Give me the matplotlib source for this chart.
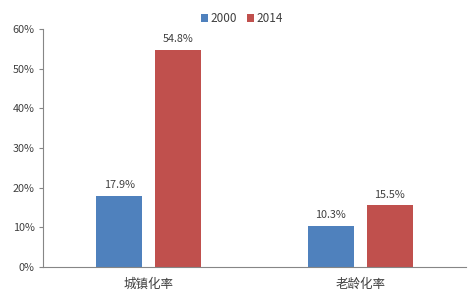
import matplotlib
matplotlib.use("Agg")
import matplotlib.pyplot as plt
import numpy as np

plt.rcParams['font.family'] = ['Noto Sans CJK SC', 'DejaVu Sans']

categories = ['城镇化率', '老龄化率']
series_names = ['2000', '2014']
values_2000 = [17.9, 10.3]
values_2014 = [54.8, 15.5]
colors = ['#4F81BD', '#C0504D']
yticks = [0, 10, 20, 30, 40, 50, 60]

fig = plt.figure(figsize=(4.75, 2.98), dpi=100)
ax = fig.add_axes([0.0905, 0.104, 0.8905, 0.799])

x = np.arange(len(categories))
w = 0.2175
off = 0.1387
for vals, name, c, d in [(values_2000, series_names[0], colors[0], -off),
                         (values_2014, series_names[1], colors[1], off)]:
    bars = ax.bar(x + d, vals, width=w, color=c, label=name, zorder=2)
    for b, v in zip(bars, vals):
        ax.text(b.get_x() + b.get_width() / 2, v + 1.5, f'{v}%',
                ha='center', va='bottom', fontsize=7.8, color='#404040')

ax.set_xlim(-0.5, 1.5)
ax.set_ylim(0, 60)
ax.set_yticks(yticks)
ax.set_yticklabels([f'{t}%' for t in yticks], fontsize=7.8, color='#404040')
ax.set_xticks(x)
ax.set_xticklabels(categories, fontsize=9, color='#404040')
ax.tick_params(axis='x', length=0, pad=8)
ax.tick_params(axis='y', length=3, color='#868686', pad=3)

for s in ['top', 'right']:
    ax.spines[s].set_visible(False)
for s in ['left', 'bottom']:
    ax.spines[s].set_color('#868686')
    ax.spines[s].set_linewidth(0.8)

ax.legend(loc='upper center', bbox_to_anchor=(0.47, 1.115), ncol=2, frameon=False,
          fontsize=8.5, handlelength=0.6, handleheight=0.6, handletextpad=0.2,
          columnspacing=0.8, labelcolor='#404040')

fig.savefig('out.png', dpi=100)
